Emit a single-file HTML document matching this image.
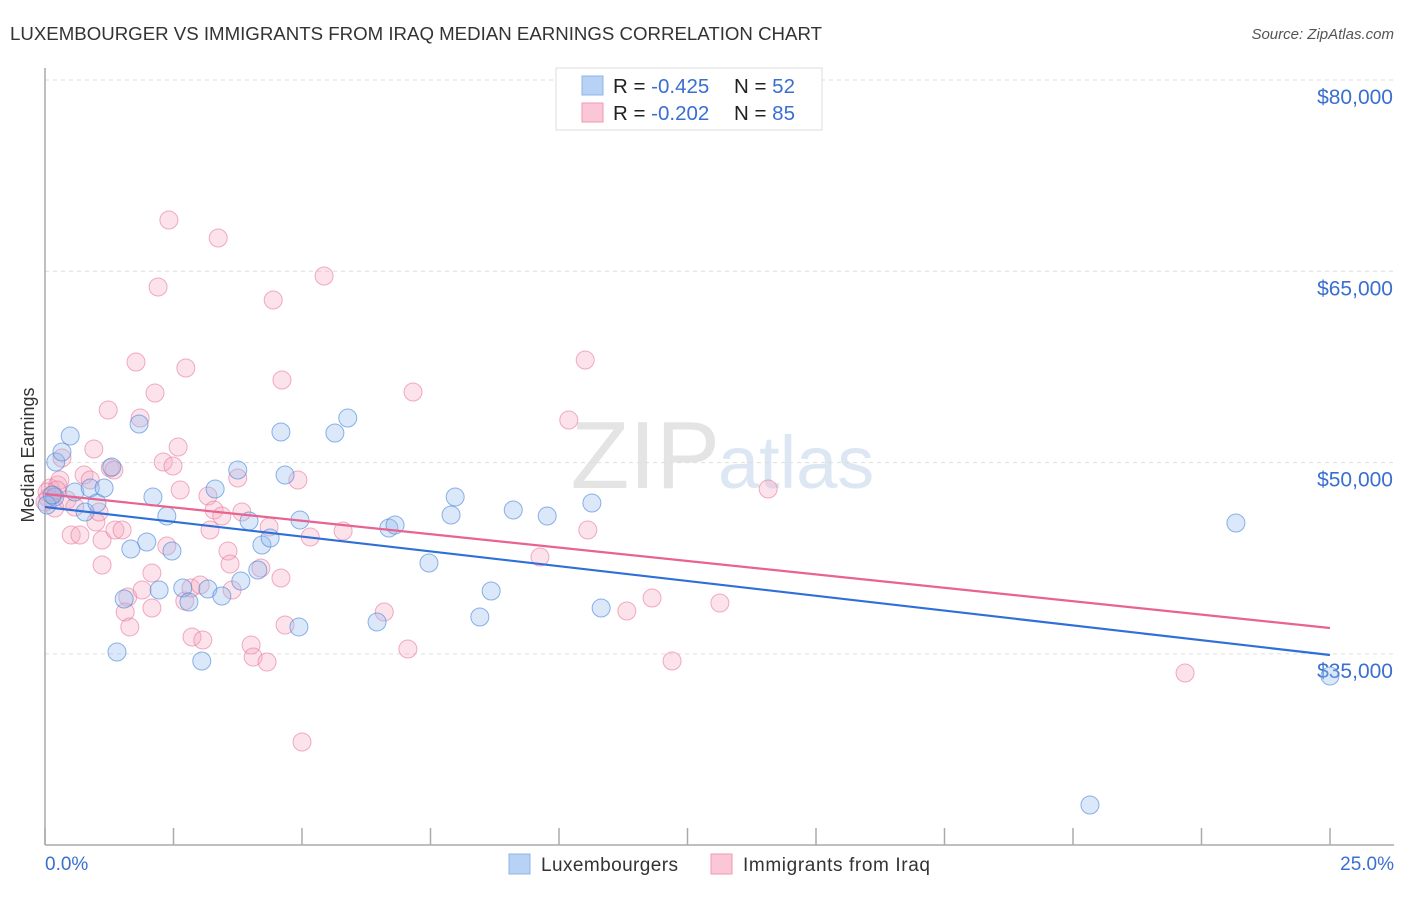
<!DOCTYPE html>
<html><head><meta charset="utf-8"><style>
body{margin:0;background:#fff;font-family:"Liberation Sans",sans-serif;}
svg text{font-family:"Liberation Sans",sans-serif;}
</style></head><body>
<svg id="chart" width="1406" height="892" xmlns="http://www.w3.org/2000/svg">
<text x="10" y="40" font-size="18" fill="#333" textLength="812" lengthAdjust="spacingAndGlyphs">LUXEMBOURGER VS IMMIGRANTS FROM IRAQ MEDIAN EARNINGS CORRELATION CHART</text>
<text x="1394" y="39" font-size="15" fill="#555" font-style="italic" text-anchor="end">Source: ZipAtlas.com</text>
<text x="720" y="488" font-size="96" fill="#e4e4e4" text-anchor="end" font-family="Liberation Serif">ZIP</text>
<text x="718" y="488" font-size="74" fill="#dde7f3">atlas</text>
<g id="grid"></g>
<g id="axes"></g>
<g id="pts"></g>
<g id="trend"></g>
<text transform="translate(34,455) rotate(-90)" font-size="18" fill="#333" text-anchor="middle">Median Earnings</text>
<g>
<rect x="556" y="68" width="266" height="62" fill="#fff" stroke="#ddd"/>
<rect x="582" y="76" width="21" height="19" fill="#b7d2f4" stroke="#8fb4e6"/>
<rect x="582" y="103" width="21" height="19" fill="#fbc7d6" stroke="#ee9ab4"/>
<text x="613" y="93" font-size="20.5" fill="#222">R = <tspan fill="#3a6fd0">-0.425</tspan></text>
<text x="734" y="93" font-size="20.5" fill="#222">N = <tspan fill="#3a6fd0">52</tspan></text>
<text x="613" y="120" font-size="20.5" fill="#222">R = <tspan fill="#3a6fd0">-0.202</tspan></text>
<text x="734" y="120" font-size="20.5" fill="#222">N = <tspan fill="#3a6fd0">85</tspan></text>
</g>
<g>
<rect x="509" y="854" width="21" height="20" fill="#b7d2f4" stroke="#8fb4e6"/>
<text x="541" y="871" font-size="19" fill="#333" textLength="137">Luxembourgers</text>
<rect x="711" y="854" width="21" height="20" fill="#fbc7d6" stroke="#ee9ab4"/>
<text x="743" y="871" font-size="19" fill="#333" textLength="187">Immigrants from Iraq</text>
</g>
</svg>
<script>
const blueX=[0.49,0.21,0.33,0.19,0.58,0.78,0.88,1.15,1.01,1.30,1.83,2.10,2.37,1.67,1.98,2.47,1.54,1.40,2.22,2.68,2.80,3.17,3.44,3.05,3.75,3.31,3.97,4.22,4.38,4.14,3.81,4.59,4.67,4.96,4.94,5.64,5.89,6.69,6.81,6.46,7.47,7.98,7.90,8.46,8.68,9.11,9.77,10.64,10.82,23.17,25.0,20.33,0.04,0.14];
const blueY=[52086,50047,50831,47303,47695,46127,48009,48009,46833,49656,53027,47303,45814,43226,43775,43069,39305,35150,40011,40168,39070,40089,39540,34443,49420,47930,45421,43539,44088,41579,40717,52400,49028,45500,37110,52322,53498,44872,45108,37502,42128,47303,45892,37894,39932,46284,45814,46833,38600,45265,33268,23152,46676,47460];
const pinkX=[0.10,0.16,0.25,0.19,0.33,0.29,0.43,0.51,0.68,0.76,0.88,0.99,1.05,1.11,1.23,1.27,1.34,1.36,1.50,1.11,1.61,1.56,1.65,1.77,1.85,1.89,2.08,2.14,2.08,2.20,2.30,2.41,2.37,2.49,2.59,2.63,2.74,2.72,2.86,2.84,3.07,3.02,3.21,3.17,3.29,3.37,3.44,3.56,3.60,3.64,3.75,3.83,4.01,4.05,4.20,4.32,4.36,4.44,4.61,4.59,4.67,4.92,5.00,5.16,5.43,5.80,6.60,7.06,7.16,9.63,10.19,10.51,10.56,11.32,11.81,12.20,13.13,14.07,22.18,0.04,0.06,0.0,0.23,0.58,0.95];
const pinkY=[48009,47460,48244,46441,50361,48636,47068,44323,44323,49028,48636,45343,46127,43931,54125,49577,49420,44715,44715,41971,39462,38286,37110,57888,53498,40011,38600,55457,41344,63769,50047,69023,43461,49734,51224,47852,57418,39148,36325,40168,36090,40403,44715,47382,46284,67611,45814,43069,42050,40011,48793,46127,35698,34757,41736,34364,44950,62750,56477,40952,37267,48636,28093,44166,64632,44637,38286,35385,55536,42599,53341,58045,44715,38365,39383,34443,38992,47930,33503,47695,47225,46911,47852,46519,51067];
const blueTrend=[46519,34914];
const pinkTrend=[47538,37031];
const yTicks=[80000,65000,50000,35000];
const yTickLabels=["$80,000","$65,000","$50,000","$35,000"];
const xTickLabels=["0.0%","25.0%"];

const NS="http://www.w3.org/2000/svg";
const X0=45,X1=1330,Y80=80,PX15=191.3;
function sx(p){return X0+p/25*(X1-X0);}
function sy(v){return Y80+(80000-v)/15000*PX15;}
function mk(tag,attrs,parent){const e=document.createElementNS(NS,tag);for(const k in attrs)e.setAttribute(k,attrs[k]);parent.appendChild(e);return e;}
const grid=document.getElementById('grid'),axes=document.getElementById('axes');
yTicks.forEach((v,i)=>{
 const l=mk('line',{x1:X0,x2:1394,y1:sy(v),y2:sy(v),stroke:'#ddd','stroke-dasharray':'4,4'},grid);
 
 
 const t=mk('text',{x:1393,y:sy(v)+24,'font-size':21,fill:'#3a6fd0','text-anchor':'end'},grid);
 t.textContent=yTickLabels[i];
 
 
});
const ya=mk('line',{x1:X0,x2:X0,y1:68,y2:845,stroke:'#aaa','stroke-width':1.5},axes);


const xa=mk('line',{x1:X0,x2:1394,y1:845,y2:845,stroke:'#aaa','stroke-width':1.5},axes);


for(let i=0;i<=10;i++){
 const x=sx(i*2.5);
 const tk=mk('line',{x1:x,x2:x,y1:828,y2:845,stroke:'#aaa','stroke-width':1.5},axes);
 
 
}
const t0=mk('text',{x:45,y:870,'font-size':19,fill:'#3a6fd0'},axes);
t0.textContent=xTickLabels[0];


const t1=mk('text',{x:1394,y:870,'font-size':19,fill:'#3a6fd0','text-anchor':'end'},axes);
t1.textContent=xTickLabels[1];


const pts=document.getElementById('pts');
pinkX.forEach((p,i)=>{
 const c=mk('circle',{cx:sx(p),cy:sy(pinkY[i]),r:9,fill:'rgba(247,167,192,0.32)',stroke:'rgba(232,120,155,0.6)','stroke-width':1},pts);
 
 
});
blueX.forEach((p,i)=>{
 const c=mk('circle',{cx:sx(p),cy:sy(blueY[i]),r:9,fill:'rgba(150,190,238,0.35)',stroke:'rgba(70,130,215,0.6)','stroke-width':1},pts);
 
 
});
const tr=document.getElementById('trend');
const bl=mk('line',{x1:sx(0),x2:sx(25),y1:sy(blueTrend[0]),y2:sy(blueTrend[1]),stroke:'#2e6fd8','stroke-width':2.2},tr);


const pl=mk('line',{x1:sx(0),x2:sx(25),y1:sy(pinkTrend[0]),y2:sy(pinkTrend[1]),stroke:'#e8638f','stroke-width':2.2},tr);


</script>
</body></html>
